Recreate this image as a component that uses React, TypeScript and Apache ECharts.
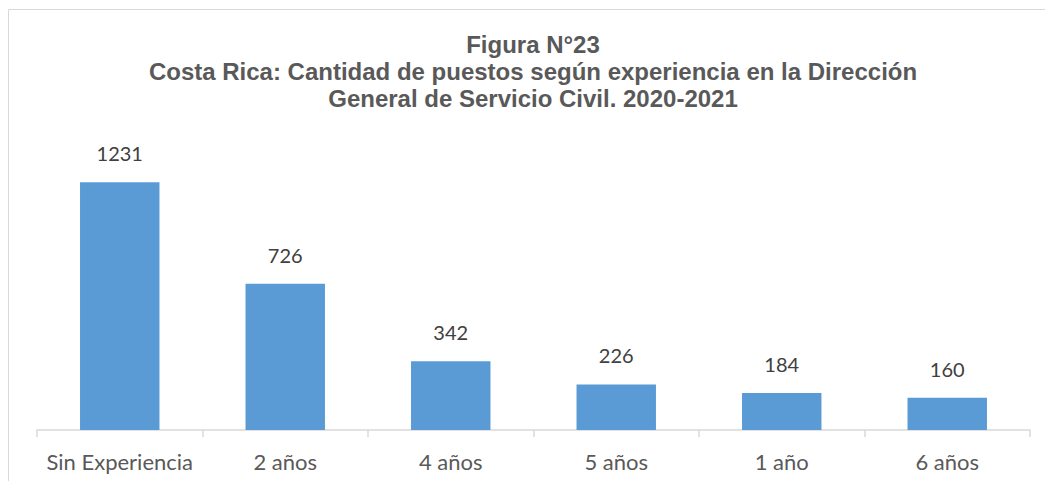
import React, { useEffect, useRef } from "react";
import * as echarts from "echarts";

const categories = ["Sin Experiencia", "2 años", "4 años", "5 años", "1 año", "6 años"];
const values = [1231, 726, 342, 226, 184, 160];
const titleLines = [
  "Figura N°23",
  "Costa Rica: Cantidad de puestos según experiencia en la Dirección",
  "General de Servicio Civil. 2020-2021",
];

export default function App() {
  const ref = useRef<HTMLDivElement>(null);
  useEffect(() => {
    if (!ref.current) return;
    const chart = echarts.init(ref.current, null, { renderer: "svg" });
    chart.setOption({
      animation: false,
      backgroundColor: "#ffffff",
      title: {
        text: titleLines.join("\n"),
        left: 528,
        top: 26,
        textAlign: "center",
        textStyle: {
          fontFamily: "Liberation Sans, Arial, sans-serif",
          fontWeight: "bold",
          fontSize: 24,
          lineHeight: 27,
          color: "#595959",
        },
      },
      graphic: [
        {
          type: "rect",
          shape: { x: 8.5, y: 9.5, width: 1100, height: 600 },
          style: { fill: "none", stroke: "#D9D9D9", lineWidth: 1 },
          silent: true,
        },
      ],
      grid: { left: 37, right: 15, top: 128, bottom: 51, containLabel: false },
      xAxis: {
        type: "category",
        data: categories,
        axisLine: { lineStyle: { color: "#D9D9D9", width: 1.5 } },
        axisTick: { show: true, interval: 0, length: 7, lineStyle: { color: "#D9D9D9", width: 1.5 } },
        axisLabel: {
          interval: 0,
          color: "#595959",
          fontFamily: "Lato, sans-serif",
          fontSize: 22,
          margin: 20,
        },
      },
      yAxis: {
        type: "value",
        min: 0,
        max: 1500,
        show: false,
        splitLine: { show: false },
      },
      series: [
        {
          type: "bar",
          data: values,
          barWidth: "48%",
          itemStyle: { color: "#5B9BD5" },
          label: {
            show: true,
            position: "top",
            distance: 19,
            color: "#404040",
            fontFamily: "Lato, sans-serif",
            fontSize: 20,
          },
        },
      ],
    });
    return () => chart.dispose();
  }, []);
  return (
    <div
      ref={ref}
      style={{ position: "fixed", left: 0, top: 0, width: 1045, height: 481 }}
    />
  );
}
